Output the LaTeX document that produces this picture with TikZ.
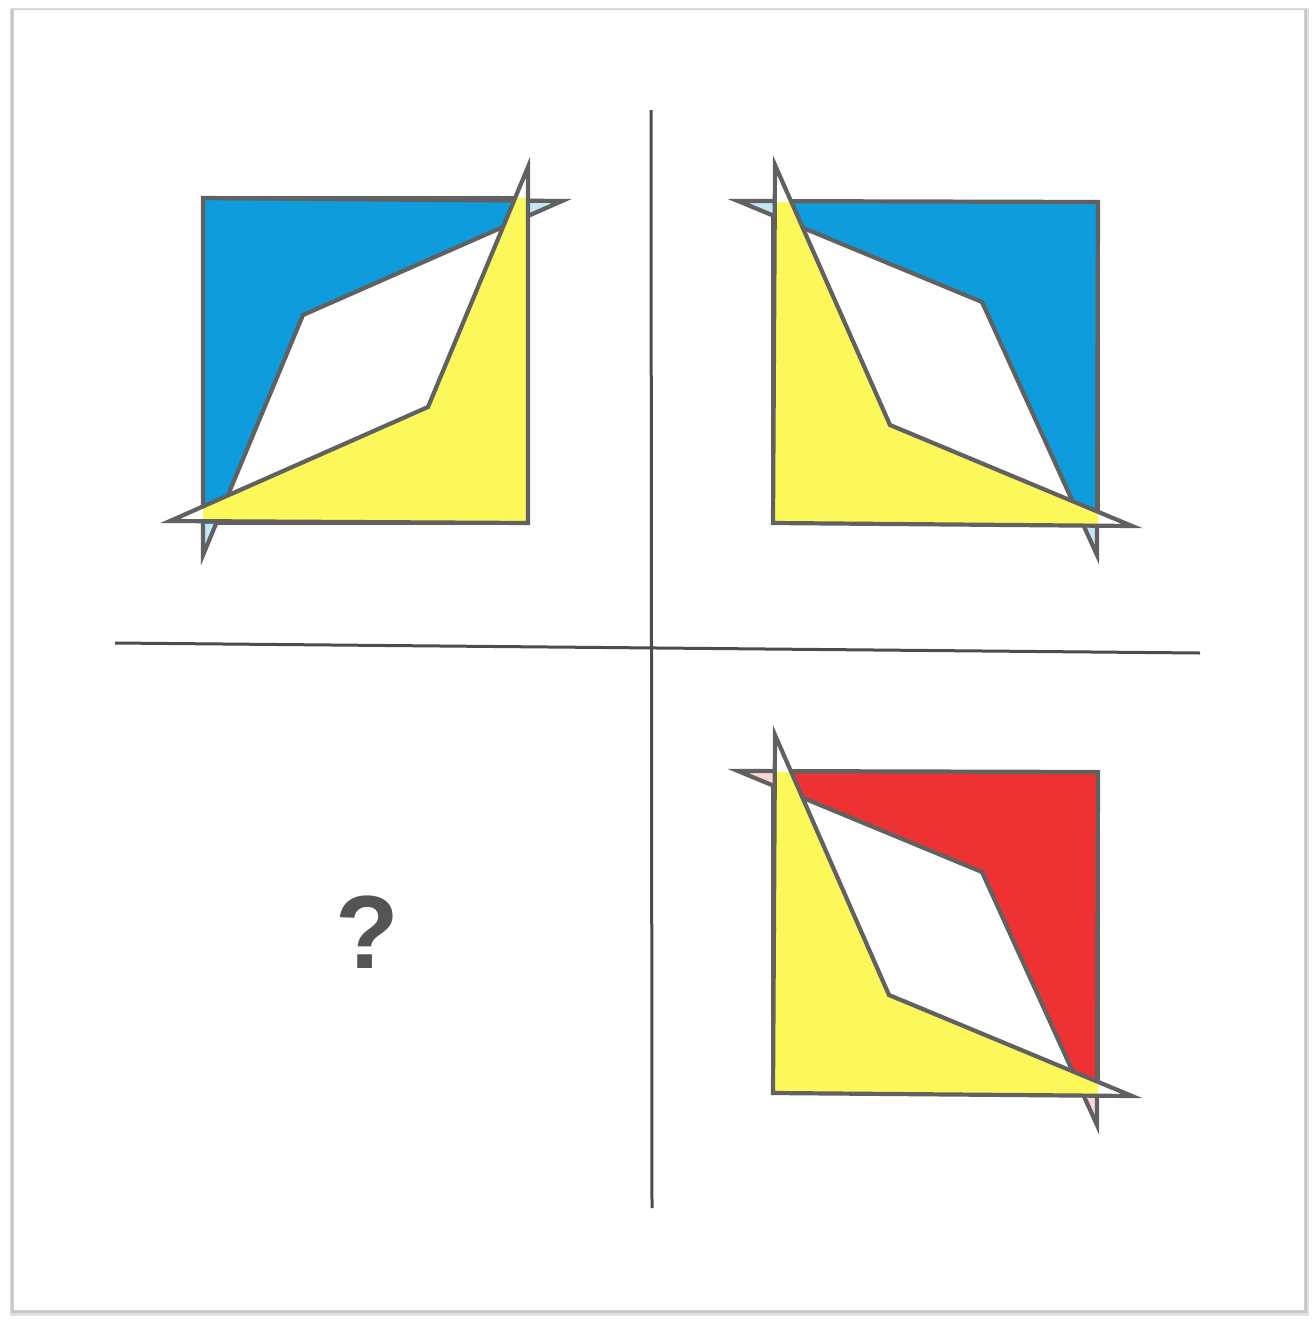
\documentclass[tikz,border=0pt]{standalone}
\usepackage{fontspec}
\setmainfont{Liberation Sans}
\begin{document}
\begin{tikzpicture}[x=1pt,y=-1pt,
  edge/.style={draw=black!62,line width=4.2pt,line join=miter},
  divider/.style={draw=black!70,line width=3pt},
  sqline/.style={draw=black!62,line width=4.2pt}]
\definecolor{pblue}{RGB}{14,156,220}
\definecolor{pyellow}{RGB}{252,248,90}
\definecolor{pred}{RGB}{238,50,52}
\useasboundingbox (0,0) rectangle (1315,1325);
% frame with shadow
\fill[black!12] (10,8) rectangle (1309,1316);
\fill[black!22] (11,9) rectangle (1307,1313);
\filldraw[fill=white,draw=black!18,line width=1pt] (13,9) rectangle (1304,1310);
% dividers
\coordinate (vt) at (651,110);
\coordinate (vb) at (652,1208);
\coordinate (hl) at (115,643);
\coordinate (hr) at (1200,653);
\draw[divider] (vt) -- (vb);
\draw[divider] (hl) -- (hr);

% figure macro: #1 square, #2 colour dart, #3 pale tint, #4 yellow dart, #5 colour
\newcommand\myfigure[5]{%
  \draw[sqline] #1;
  \fill[#3] #2;
  \begin{scope}\clip #1; \fill[#5] #2; \end{scope}
  \draw[edge] #2;
  \fill[white] #4;
  \begin{scope}\clip #1; \fill[pyellow] #4; \end{scope}
  \draw[edge] #4;
}

% top-left
\myfigure{(203,198) rectangle (528,523)}
  {(203,198) -- (562,201) -- (303,315) -- (203,555) -- cycle}
  {pblue!25}
  {(528,523) -- (528,167) -- (428,407) -- (170,521) -- cycle}
  {pblue}

% top-right
\myfigure{(773,202) rectangle (1098,523)}
  {(1098,202) -- (738,201) -- (982,302) -- (1097,555) -- cycle}
  {pblue!25}
  {(773,523) -- (775,165) -- (890,425) -- (1132,526) -- cycle}
  {pblue}

% bottom-right
\myfigure{(773,772) rectangle (1098,1093)}
  {(1098,772) -- (738,771) -- (982,872) -- (1097,1125) -- cycle}
  {pred!20}
  {(773,1093) -- (775,735) -- (889,995) -- (1132,1096) -- cycle}
  {pred}

% question mark
\node[text=black!67,font=\bfseries\fontsize{104}{104}\selectfont,inner sep=0pt] (qm) at (367,932) {?};
\end{tikzpicture}
\end{document}
